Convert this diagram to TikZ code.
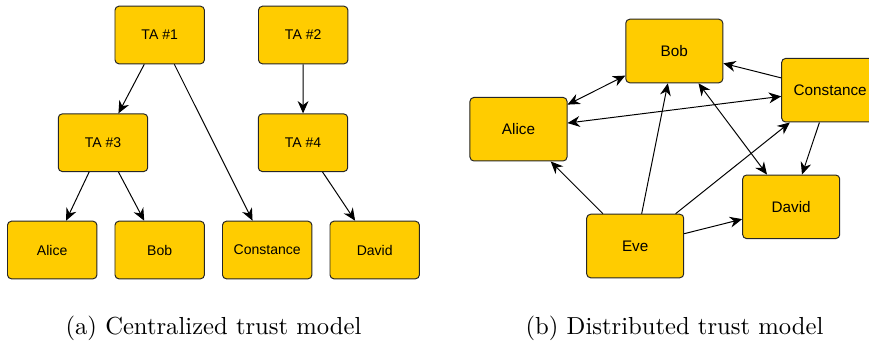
\documentclass[tikz,border=0pt]{standalone}
\usepackage{fontspec}
\newfontfamily\boxfont{Liberation Sans}
\usetikzlibrary{arrows.meta}
\definecolor{tayellow}{HTML}{FFCC00}

\begin{document}
\begin{tikzpicture}[
  x=0.406pt, y=-0.406pt,
  box/.style={draw=black!85, fill=tayellow, rounded corners=1.6pt,
              line width=0.4pt, inner sep=0pt, align=center},
  lbox/.style={box, minimum width=36.3pt, minimum height=23.4pt,
               font=\boxfont\fontsize{5.7}{7}\selectfont},
  rbox/.style={box, minimum width=39.4pt, minimum height=25.8pt,
               font=\boxfont\fontsize{6.2}{7.5}\selectfont},
  arr/.style={-{Stealth[length=5pt,width=4.4pt]}, line width=0.4pt},
  darr/.style={{Stealth[length=5pt,width=4.4pt]}-{Stealth[length=5pt,width=4.4pt]}, line width=0.4pt},
  captext/.style={anchor=base, inner sep=0pt, font=\fontsize{10}{12}\selectfont}
]
\useasboundingbox (0,0) rectangle (869,340);
\clip (0,0) rectangle (869,340);

%% -- (a) centralized ---------------------------------------------------
\node[lbox] (ta1)    at (159.7, 35)  {TA \#1};
\node[lbox] (ta2)    at (303.2, 35)  {TA \#2};
\node[lbox] (ta3)    at (103,  142.7) {TA \#3};
\node[lbox] (ta4)    at (303,  142.7) {TA \#4};
\node[lbox] (calice) at (52.2, 250)  {Alice};
\node[lbox] (cbob)   at (159.7,250)  {Bob};
\node[lbox] (ccons)  at (267.2,250)  {Constance};
\node[lbox] (cdavid) at (374.7,250)  {David};

\draw[arr] (ta1) -- (ta3);
\draw[arr] (ta1) -- (ccons);
\draw[arr] (ta2) -- (ta4);
\draw[arr] (ta3) -- (calice);
\draw[arr] (ta3) -- (cbob);
\draw[arr] (ta4) -- (cdavid);

%% -- (b) distributed ---------------------------------------------------
\node[rbox] (dbob)   at (674.3, 51)   {Bob};
\node[rbox] (dcons)  at (830.2, 90.2) {Constance};
\node[rbox] (dalice) at (518.5, 129.2) {Alice};
\node[rbox] (ddavid) at (791.2, 206.8) {David};
\node[rbox] (deve)   at (635.2, 246)  {Eve};

\draw[darr] (dalice) -- (dbob);
\draw[darr] (dalice) -- (dcons);
\draw[darr] (dbob)   -- (ddavid);
\draw[arr]  (dcons)  -- (dbob);
\draw[arr]  (dcons)  -- (ddavid);
\draw[arr]  (deve)   -- (dalice);
\draw[arr]  (deve)   -- (dbob);
\draw[arr]  (deve)   -- (dcons);
\draw[arr]  (deve)   -- (ddavid);

%% -- captions ----------------------------------------------------------
\node[captext] (capa) at (213.5, 334) {(a) Centralized trust model};
\node[captext] (capb) at (674.5, 334) {(b) Distributed trust model};

\end{tikzpicture}
\end{document}
